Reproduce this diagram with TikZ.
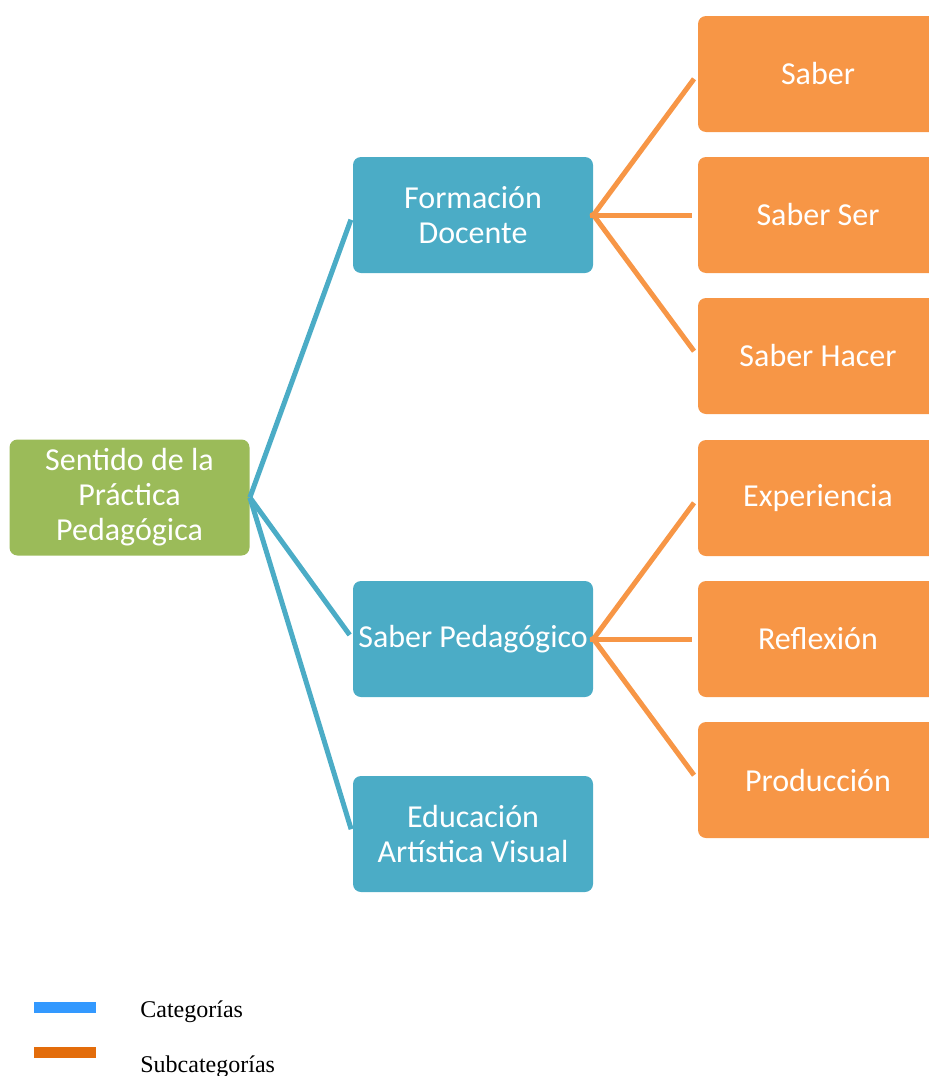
\documentclass[tikz,border=0pt]{standalone}
\usepackage{fontspec}
\setmainfont{Carlito}
\newfontfamily\legendfont{Liberation Serif}

\definecolor{rootgreen}{HTML}{9BBB59}
\definecolor{catblue}{HTML}{4BACC6}
\definecolor{suborange}{HTML}{F79646}
\definecolor{keyblue}{HTML}{3399FF}
\definecolor{keyorange}{HTML}{E36C0A}

\begin{document}
\begin{tikzpicture}[
    x=0.5pt, y=-0.5pt,
    box/.style={rounded corners=4pt, minimum width=120pt, minimum height=58pt,
        inner sep=1pt, text=white, align=center,
        font=\fontsize{16}{17.5}\selectfont},
    root/.style={box, fill=rootgreen},
    cat/.style={box, fill=catblue},
    sub/.style={box, fill=suborange},
    catline/.style={draw=catblue, line width=2.5pt, shorten >=2.5pt},
    subline/.style={draw=suborange, line width=2.5pt, shorten >=3pt, shorten <=-1.5pt},
    keybar/.style={minimum width=31pt, minimum height=5.5pt, inner sep=0pt},
    keytext/.style={anchor=base west, inner sep=0pt, font=\legendfont\fontsize{12}{14}\selectfont}
]
\clip (0,0) rectangle (929,1076);

% Root
\node[root] (sentido) at (129.5,497.5) {Sentido de la\\Práctica\\Pedagógica};

% Categories
\node[cat] (formacion) at (473,215) {Formación\\Docente};
\node[cat] (saberped) at (473,639) {Saber Pedagógico};
\node[cat] (educacion) at (473,834) {Educación\\Artística Visual};

% Subcategories
\foreach \n/\y/\t in {saber/74/Saber, ser/215/Saber Ser, hacer/356/Saber Hacer,
                      exp/498/Experiencia, refl/639/Reflexión, prod/780/Producción} {
    \node[sub] (\n) at (818,\y) {\t};
}

% Connections
\foreach \c in {formacion,saberped,educacion} {
    \draw[catline] (sentido.east) -- (\c.west);
}

\foreach \s in {saber,ser,hacer} {
    \draw[subline] (formacion.east) -- (\s.west);
}

\foreach \s in {exp,refl,prod} {
    \draw[subline] (saberped.east) -- (\s.west);
}

% Legend
\node[keybar, fill=keyblue] (catkey) at (65,1007.5) {};
\node[keybar, fill=keyorange] (subkey) at (65,1052.5) {};
\node[keytext] (catlabel) at (140,1017) {Categorías};
\node[keytext] (sublabel) at (140,1072) {Subcategorías};
\end{tikzpicture}
\end{document}
